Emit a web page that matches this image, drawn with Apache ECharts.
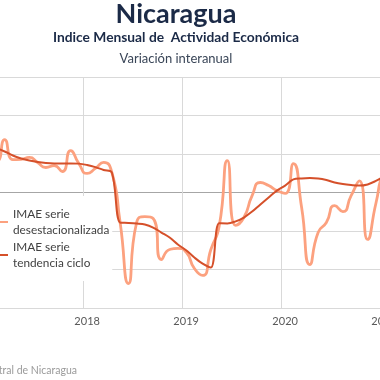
<!DOCTYPE html>
<html>
<head>
<meta charset="utf-8">
<script src="https://cdn.jsdelivr.net/npm/echarts@6/dist/echarts.min.js"></script>
<style>
html,body{margin:0;padding:0;background:#fff;overflow:hidden;width:380px;height:380px}
#c{position:absolute;left:-40px;top:0;width:460px;height:380px}
</style>
</head>
<body>
<div id="c"></div>
<script>
// Monthly categories Jan 2017 .. Feb 2021
const months = [
  '2017-01','2017-02','2017-03','2017-04','2017-05','2017-06','2017-07','2017-08','2017-09','2017-10','2017-11','2017-12',
  '2018-01','2018-02','2018-03','2018-04','2018-05','2018-06','2018-07','2018-08','2018-09','2018-10','2018-11','2018-12',
  '2019-01','2019-02','2019-03','2019-04','2019-05','2019-06','2019-07','2019-08','2019-09','2019-10','2019-11','2019-12',
  '2020-01','2020-02','2020-03','2020-04','2020-05','2020-06','2020-07','2020-08','2020-09','2020-10','2020-11','2020-12',
  '2021-01','2021-02'
];
// IMAE serie desestacionalizada (variación interanual, %)
const desest = [
  1.8, 1.6, 2.75, 1.71, 1.72, 1.82, 1.56, 1.30, 1.40, 1.09, 2.18, 1.5,
  0.99, 1.25, 1.56, 1.04, -1.56, -4.73, -1.56, -1.25, -1.35, -3.48, -2.96, -2.9,
  -3.1, -3.95, -4.31, -2.96, -1.77, 1.66, -1.71, -1.3, -0.16, 0.52, 0.36, 0.1,
  -0.05, 1.5, -0.78, -3.74, -2.08, -1.56, -0.68, -0.99, -0.16, 0.6, -2.44, -0.57,
  1.14, 1.5
];
// IMAE serie tendencia ciclo
const trend = [
  2.39, 2.29, 2.13, 1.92, 1.77, 1.66, 1.58, 1.53, 1.51, 1.51, 1.51, 1.5,
  1.43, 1.32, 1.17, 1.04, -1.56, -1.58, -1.61, -1.66, -1.82, -2.08, -2.34, -2.7,
  -3.0, -3.38, -3.7, -3.9, -1.6, -1.61, -1.5, -1.3, -0.99, -0.62, -0.26, 0.1,
  0.36, 0.68, 0.73, 0.75, 0.73, 0.65, 0.52, 0.44, 0.39, 0.36, 0.42, 0.6,
  0.83, 1.04
];
const seriesNames = ['IMAE serie desestacionalizada', 'IMAE serie tendencia ciclo'];

const FONT = 'Lato, "Open Sans", sans-serif';
const isJan = (i, v) => String(v).slice(5) === '01';
const isLabelJan = (i, v) => isJan(i, v) && i > 0;

const chart = echarts.init(document.getElementById('c'), null, {renderer: 'canvas'});
chart.setOption({
  animation: false,
  backgroundColor: '#fff',
  textStyle: {fontFamily: FONT},
  graphic: [
    {type: 'text', x: 216, y: 14, style: {text: 'Nicaragua', font: 'bold 27px ' + FONT, fill: '#1b2a47', textAlign: 'center', textVerticalAlign: 'middle'}},
    {type: 'text', x: 216, y: 38, style: {text: 'Indice Mensual de  Actividad Económica', font: 'bold 13.8px ' + FONT, fill: '#1b2a47', textAlign: 'center', textVerticalAlign: 'middle'}},
    {type: 'text', x: 216, y: 59, style: {text: 'Variación interanual', font: '13px ' + FONT, fill: '#3a4658', textAlign: 'center', textVerticalAlign: 'middle'}},
    {type: 'text', x: 117, y: 371, style: {text: 'Fuente: Banco Central de Nicaragua', font: '10.5px ' + FONT, fill: '#9a9a9a', textAlign: 'right', textVerticalAlign: 'middle'}}
  ],
  grid: {left: 24, right: 23.5, top: 77, bottom: 72, containLabel: false},
  legend: {
    data: seriesNames,
    orient: 'vertical',
    left: 26,
    top: 196,
    icon: 'rect',
    itemWidth: 22,
    itemHeight: 2,
    itemGap: -15,
    padding: [2, 3, 2, 0],
    backgroundColor: '#fff',
    formatter: n => n.replace('serie ', 'serie\n'),
    textStyle: {fontFamily: FONT, fontSize: 11.8, color: '#404040', lineHeight: 16, padding: [16, 0, 0, 0]}
  },
  xAxis: {
    type: 'category',
    data: months,
    boundaryGap: true,
    axisLine: {show: false},
    axisTick: {show: false},
    axisLabel: {interval: isLabelJan, formatter: v => v.slice(0, 4), color: '#595959', fontSize: 11, margin: 8, fontFamily: FONT},
    splitLine: {show: true, interval: isJan, lineStyle: {color: '#d9d9d9', width: 1}}
  },
  yAxis: {
    type: 'value',
    min: -6, max: 6, interval: 2,
    axisLabel: {show: false},
    axisLine: {show: false},
    axisTick: {show: false},
    splitLine: {lineStyle: {color: ['#d9d9d9', '#d9d9d9', '#d9d9d9', '#a6a6a6', '#d9d9d9', '#d9d9d9', '#d9d9d9'], width: 1}}
  },
  series: [
    {
      name: seriesNames[0], type: 'line', data: desest, smooth: 0.6,
      symbol: 'none', color: '#fca17f',
      lineStyle: {color: '#fca17f', width: 2.8}
    },
    {
      name: seriesNames[1], type: 'line', data: trend, smooth: 0.35,
      symbol: 'none', color: '#d5502a',
      lineStyle: {color: '#d5502a', width: 2}
    }
  ]
});
</script>
</body>
</html>
